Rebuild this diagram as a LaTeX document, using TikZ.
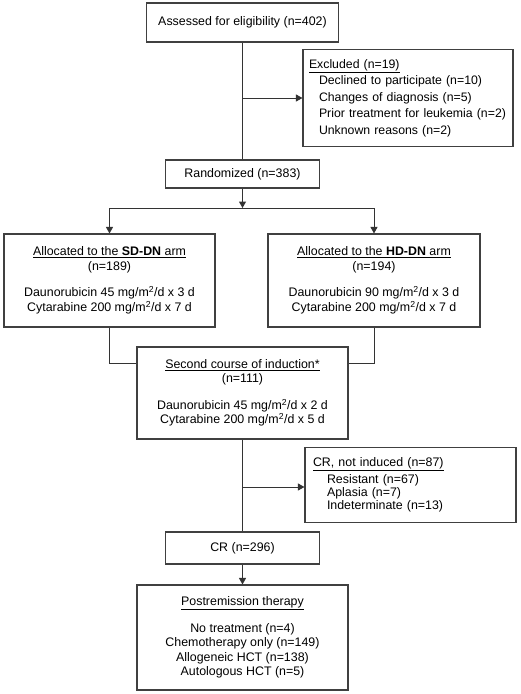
\documentclass[tikz,border=0pt]{standalone}
\usepackage{fontspec}
\setmainfont{Liberation Sans}
\usetikzlibrary{arrows.meta}

\begin{document}
\begin{tikzpicture}[x=1pt, y=-1pt,
    block/.style={draw=black!75, line width=1.1pt, inner sep=0pt, font=\fontsize{12.4}{14.5}\selectfont},
    link/.style={draw=black!80, line width=1pt},
    arr/.style={-{Triangle[length=6.5pt,width=7pt]}}]
        \useasboundingbox (0,0) rectangle (520,694);

        % Boxes
        \node[block, minimum width=192, minimum height=39] (Assess) at (242.5,22.5) {Assessed for eligibility (n=402)};
        \node[block, minimum width=210, minimum height=97, align=left, text width=198,
              font=\fontsize{12.3}{16.5}\selectfont] (Excl) at (408,98) {\underline{Excluded (n=19)}\\
              \hspace*{10pt}Declined to participate (n=10)\\
              \hspace*{10pt}Changes of diagnosis (n=5)\\
              \hspace*{10pt}Prior treatment for leukemia (n=2)\\
              \hspace*{10pt}Unknown reasons (n=2)};
        \node[block, minimum width=154, minimum height=28] (Rand) at (242.5,174) {Randomized (n=383)};
        \node[block, minimum width=211, minimum height=93, align=center] (SD) at (109.5,280.5)
              {\underline{Allocated to the \textbf{SD-DN} arm}\\(n=189)\\[12pt]
               Daunorubicin 45 mg/m\textsuperscript{2}/d x 3 d\\Cytarabine 200 mg/m\textsuperscript{2}/d x 7 d};
        \node[block, minimum width=212, minimum height=93, align=center] (HD) at (374,280.5)
              {\underline{Allocated to the \textbf{HD-DN} arm}\\(n=194)\\[12pt]
               Daunorubicin 90 mg/m\textsuperscript{2}/d x 3 d\\Cytarabine 200 mg/m\textsuperscript{2}/d x 7 d};
        \node[block, minimum width=211, minimum height=92, align=center] (Second) at (242.5,393)
              {\underline{Second course of induction*}\\(n=111)\\[12pt]
               Daunorubicin 45 mg/m\textsuperscript{2}/d x 2 d\\Cytarabine 200 mg/m\textsuperscript{2}/d x 5 d};
        \node[block, minimum width=211, minimum height=75, align=left, text width=195,
              font=\fontsize{12.4}{13}\selectfont] (NoCR) at (410.5,485) {\underline{CR, not induced (n=87)}\\[2.5pt]
              \hspace*{14pt}Resistant (n=67)\\
              \hspace*{14pt}Aplasia (n=7)\\
              \hspace*{14pt}Indeterminate (n=13)};
        \node[block, minimum width=154, minimum height=32] (CR) at (242.5,548) {CR (n=296)};
        \node[block, minimum width=211, minimum height=105, align=center] (Post) at (242.5,637.5)
              {\underline{Postremission therapy}\\[12pt]No treatment (n=4)\\Chemotherapy only (n=149)\\
               Allogeneic HCT (n=138)\\Autologous HCT (n=5)};

        % Turning points
        \coordinate (ExclTurn) at (242.5,98);
        \coordinate (Split) at (242.5,208);
        \coordinate (Join) at (242.5,363);
        \coordinate (NoCRTurn) at (242.5,487);

        % Edges
        \draw[link] (Assess) -- (Rand);
        \draw[link, arr] (ExclTurn) -- (ExclTurn -| Excl.west);
        \draw[link, arr] (Rand) -- (Split);
        \draw[link] (Split -| SD) -- (Split -| HD);
        \draw[link, arr] (Split -| SD) -- (SD);
        \draw[link, arr] (Split -| HD) -- (HD);
        \draw[link] (SD.south) -- (Join -| SD) -- (Join -| Second.west);
        \draw[link] (HD.south) -- (Join -| HD) -- (Join -| Second.east);
        \draw[link] (Second) -- (CR);
        \draw[link, arr] (NoCRTurn) -- (NoCRTurn -| NoCR.west);
        \draw[link, arr] (CR) -- (Post);
\end{tikzpicture}
\end{document}
